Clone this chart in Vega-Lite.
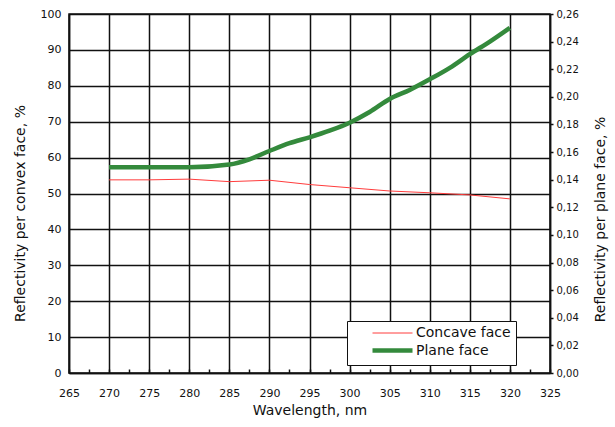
{
  "$schema": "https://vega.github.io/schema/vega-lite/v6.json",
  "width": 481,
  "height": 359,
  "autosize": {"type": "none"},
  "padding": {"left": 69, "top": 14, "right": 65, "bottom": 54},
  "background": "white",
  "config": {
    "font": "DejaVu Sans",
    "view": {"stroke": "#111", "strokeWidth": 1.5},
    "axis": {
      "labelFont": "DejaVu Sans",
      "labelFontSize": 11,
      "labelColor": "#111",
      "titleFont": "DejaVu Sans",
      "titleFontSize": 14,
      "titleFontWeight": "normal",
      "titleColor": "#111",
      "domainColor": "#111",
      "domainWidth": 1.5,
      "tickColor": "#111",
      "tickWidth": 1.5,
      "gridColor": "#111",
      "gridWidth": 1.5,
      "gridOpacity": 1
    },
    "legend": {
      "title": null,
      "orient": "none",
      "legendX": 278,
      "legendY": 307,
      "symbolType": "M-4,0H4",
      "symbolSize": 100,
      "symbolOffset": 33,
      "labelOffset": 16,
      "labelFont": "DejaVu Sans",
      "labelFontSize": 14,
      "labelColor": "#111",
      "fillColor": "white",
      "strokeColor": "#111",
      "padding": 5,
      "rowPadding": 1
    }
  },
  "datasets": {
    "concave": [
      {"wl": 270, "value": 53.8, "series": "Concave face"},
      {"wl": 275, "value": 53.8, "series": "Concave face"},
      {"wl": 280, "value": 54.0, "series": "Concave face"},
      {"wl": 285, "value": 53.3, "series": "Concave face"},
      {"wl": 290, "value": 53.7, "series": "Concave face"},
      {"wl": 295, "value": 52.5, "series": "Concave face"},
      {"wl": 300, "value": 51.6, "series": "Concave face"},
      {"wl": 305, "value": 50.7, "series": "Concave face"},
      {"wl": 310, "value": 50.2, "series": "Concave face"},
      {"wl": 315, "value": 49.6, "series": "Concave face"},
      {"wl": 320, "value": 48.5, "series": "Concave face"}
    ],
    "plane": [
      {"wl": 270, "value": 0.149, "series": "Plane face"},
      {"wl": 275, "value": 0.149, "series": "Plane face"},
      {"wl": 280, "value": 0.149, "series": "Plane face"},
      {"wl": 285, "value": 0.151, "series": "Plane face"},
      {"wl": 287.5, "value": 0.1548, "series": "Plane face"},
      {"wl": 290, "value": 0.1608, "series": "Plane face"},
      {"wl": 292.5, "value": 0.1664, "series": "Plane face"},
      {"wl": 295, "value": 0.1707, "series": "Plane face"},
      {"wl": 297.5, "value": 0.1755, "series": "Plane face"},
      {"wl": 300, "value": 0.1813, "series": "Plane face"},
      {"wl": 302.5, "value": 0.189, "series": "Plane face"},
      {"wl": 305, "value": 0.1985, "series": "Plane face"},
      {"wl": 307.5, "value": 0.205, "series": "Plane face"},
      {"wl": 310, "value": 0.2127, "series": "Plane face"},
      {"wl": 312.5, "value": 0.221, "series": "Plane face"},
      {"wl": 315, "value": 0.2309, "series": "Plane face"},
      {"wl": 317.5, "value": 0.240, "series": "Plane face"},
      {"wl": 320, "value": 0.250, "series": "Plane face"}
    ]
  },
  "encoding": {
    "x": {
      "field": "wl",
      "type": "quantitative",
      "scale": {"domain": [265, 325], "nice": false, "zero": false},
      "axis": {
        "title": "Wavelength, nm",
        "values": [265, 267.5, 270, 272.5, 275, 277.5, 280, 282.5, 285, 287.5, 290, 292.5, 295, 297.5, 300, 302.5, 305, 307.5, 310, 312.5, 315, 317.5, 320, 322.5, 325],
        "labelExpr": "datum.value % 5 === 0 ? datum.value : ''",
        "grid": true,
        "gridColor": {"condition": {"test": "datum.value % 5 === 0", "value": "#111"}, "value": "transparent"},
        "tickSize": -4,
        "labelPadding": 18,
        "labelFlush": false,
        "titleY": 37,
        "titleBaseline": "middle"
      }
    },
    "color": {
      "field": "series",
      "type": "nominal",
      "scale": {"domain": ["Concave face", "Plane face"], "range": ["#ff3c3c", "#348a3c"]}
    },
    "strokeWidth": {
      "field": "series",
      "type": "nominal",
      "scale": {"domain": ["Concave face", "Plane face"], "range": [1, 4.5]}
    }
  },
  "layer": [
    {
      "data": {"name": "concave"},
      "mark": {"type": "line"},
      "encoding": {
        "y": {
          "field": "value",
          "type": "quantitative",
          "scale": {"domain": [0, 100], "nice": false},
          "axis": {
            "orient": "left",
            "title": "Reflectivity per convex face, %",
            "values": [0, 10, 20, 30, 40, 50, 60, 70, 80, 90, 100],
            "grid": true,
            "ticks": false,
            "labelPadding": 8,
            "titleAngle": -90,
            "titleX": -49,
            "titleY": 199,
            "titleAlign": "center",
            "titleBaseline": "middle"
          }
        }
      }
    },
    {
      "data": {"name": "plane"},
      "mark": {"type": "line", "interpolate": "monotone"},
      "encoding": {
        "y": {
          "field": "value",
          "type": "quantitative",
          "scale": {"domain": [0, 0.26], "nice": false},
          "axis": {
            "orient": "right",
            "title": "Reflectivity  per plane face, %",
            "values": [0, 0.02, 0.04, 0.06, 0.08, 0.1, 0.12, 0.14, 0.16, 0.18, 0.2, 0.22, 0.24, 0.26],
            "labelExpr": "replace(format(datum.value, '.2f'), '.', ',')",
            "grid": false,
            "tickSize": 3,
            "labelPadding": 3,
            "labelFontSize": 10,
            "titleAngle": -90,
            "titleX": 50,
            "titleY": 205,
            "titleAlign": "center",
            "titleBaseline": "middle"
          }
        }
      }
    }
  ],
  "resolve": {"scale": {"y": "independent"}}
}
